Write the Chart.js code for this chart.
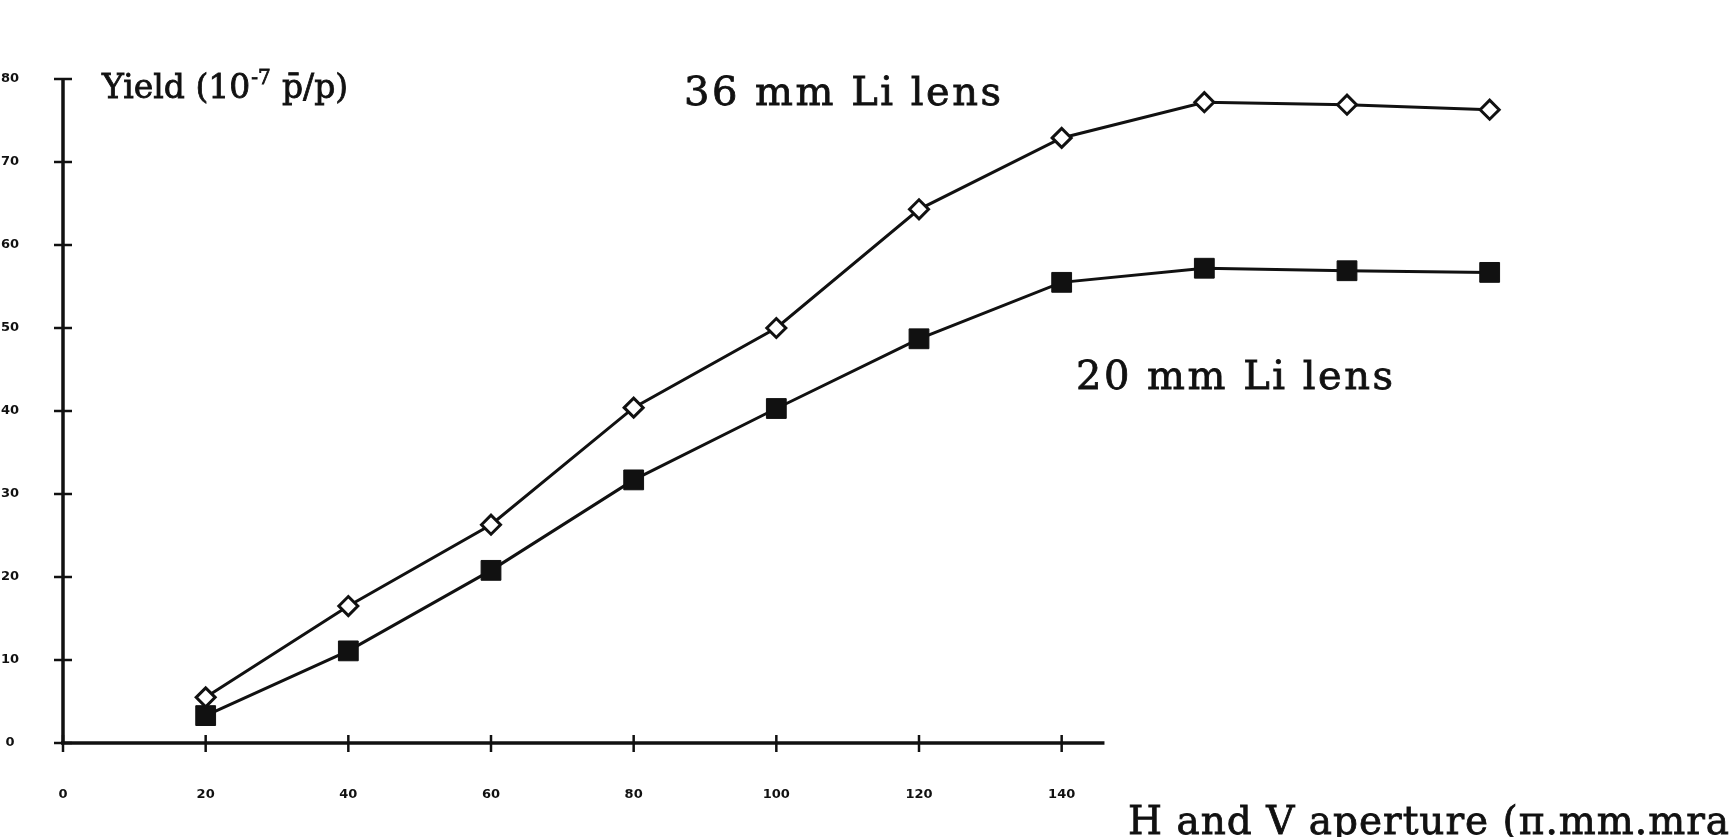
<!DOCTYPE html>
<html>
<head>
<meta charset="utf-8">
<script src="https://cdn.jsdelivr.net/npm/chart.js@4.4.0/dist/chart.umd.min.js"></script>
<style>
  html, body { margin: 0; padding: 0; background: #fff; }
  .chart-container { position: relative; width: 1731px; height: 837px; }
</style>
</head>
<body>
<div class="chart-container"><canvas id="yieldChart"></canvas></div>
<script>
// aperture (pi.mm.mrad) and yield (1e-7 pbar/p)
const apertures = [20, 40, 60, 80, 100, 120, 140, 160, 180, 200];
const yield36mm = [5.5, 16.5, 26.3, 40.4, 50.0, 64.3, 72.9, 77.2, 76.9, 76.3];
const yield20mm = [3.3, 11.1, 20.8, 31.7, 40.3, 48.7, 55.5, 57.2, 56.9, 56.7];
const xTickLabels = [0, 20, 40, 60, 80, 100, 120, 140];
const yTickLabels = [0, 10, 20, 30, 40, 50, 60, 70, 80];

const serif = "'DejaVu Serif', 'Liberation Serif', serif";

const line = (ctx, x1, y1, x2, y2) => {
  ctx.beginPath();
  ctx.moveTo(x1, y1);
  ctx.lineTo(x2, y2);
  ctx.stroke();
};

// fill + thin stroke so the text looks as heavy as the scan
const heavyText = (ctx, text, x, y) => {
  ctx.fillText(text, x, y);
  ctx.strokeText(text, x, y);
};

// hand drawn axes like the old paper figure
const axesPlugin = {
  id: "axesPlugin",
  beforeDatasetsDraw(chart) {
    const { ctx, scales: { x, y } } = chart;
    const x0 = x.getPixelForValue(0);
    const y0 = y.getPixelForValue(0);
    ctx.save();
    ctx.strokeStyle = "#111";
    ctx.lineWidth = 3.5;
    line(ctx, x0, y0, x0, y.getPixelForValue(80));
    line(ctx, x0 - 2, y0, x.getPixelForValue(146), y0);

    ctx.lineWidth = 2.5;
    yTickLabels.forEach(v => {
      const py = y.getPixelForValue(v);
      line(ctx, x0 - 9, py, x0 + 9, py);
    });
    xTickLabels.forEach(v => {
      const px = x.getPixelForValue(v);
      line(ctx, px, y0 - 8, px, y0 + 9);
    });

    ctx.fillStyle = "#111";
    ctx.font = "bold 13px 'DejaVu Sans'";
    ctx.textAlign = "center";
    ctx.textBaseline = "middle";
    yTickLabels.forEach(v => ctx.fillText(String(v), 10, y.getPixelForValue(v)));
    xTickLabels.forEach(v => ctx.fillText(String(v), x.getPixelForValue(v), y0 + 52));
    ctx.restore();
  },
  afterDraw(chart) {
    const { ctx } = chart;
    ctx.save();
    ctx.fillStyle = "#111";
    ctx.strokeStyle = "#111";
    ctx.lineWidth = 0.8;
    ctx.textAlign = "left";
    ctx.textBaseline = "alphabetic";

    // y axis title with superscript
    ctx.font = "33px " + serif;
    heavyText(ctx, "Yield (10", 102, 98);
    const w = ctx.measureText("Yield (10").width;
    ctx.font = "20px " + serif;
    heavyText(ctx, "-7", 102 + w + 1, 84);
    ctx.font = "33px " + serif;
    heavyText(ctx, "p\u0304/p)", 282, 98);

    ctx.font = "40px " + serif;
    ctx.letterSpacing = "2.5px";
    heavyText(ctx, "36 mm Li lens", 684, 105);
    heavyText(ctx, "20 mm Li lens", 1076, 389);
    ctx.font = "39px " + serif;
    ctx.letterSpacing = "1px";
    heavyText(ctx, "H and V aperture (\u03c0.mm.mrad)", 1128, 834);
    ctx.restore();
  }
};

const ctx = document.getElementById("yieldChart").getContext("2d");
new Chart(ctx, {
  type: "line",
  data: {
    datasets: [
      {
        label: "36 mm Li lens",
        data: apertures.map((a, i) => ({ x: a, y: yield36mm[i] })),
        borderColor: "#111",
        borderWidth: 3,
        pointStyle: "rectRot",
        pointRadius: 9.5,
        pointBackgroundColor: "#fff",
        pointBorderColor: "#111",
        pointBorderWidth: 3,
        tension: 0,
        clip: false,
      },
      {
        label: "20 mm Li lens",
        data: apertures.map((a, i) => ({ x: a, y: yield20mm[i] })),
        borderColor: "#111",
        borderWidth: 3,
        pointStyle: "rect",
        pointRadius: 14,
        pointBackgroundColor: "#111",
        pointBorderColor: "#111",
        pointBorderWidth: 1,
        tension: 0,
        clip: false,
      },
    ],
  },
  options: {
    responsive: true,
    maintainAspectRatio: false,
    animation: false,
    layout: { padding: { left: 63, right: 170, top: 79, bottom: 94 } },
    plugins: {
      legend: { display: false },
      tooltip: { enabled: false },
    },
    scales: {
      x: { type: "linear", min: 0, max: 210, display: false },
      y: { type: "linear", min: 0, max: 80, display: false },
    },
  },
  plugins: [axesPlugin],
});
</script>
</body>
</html>
